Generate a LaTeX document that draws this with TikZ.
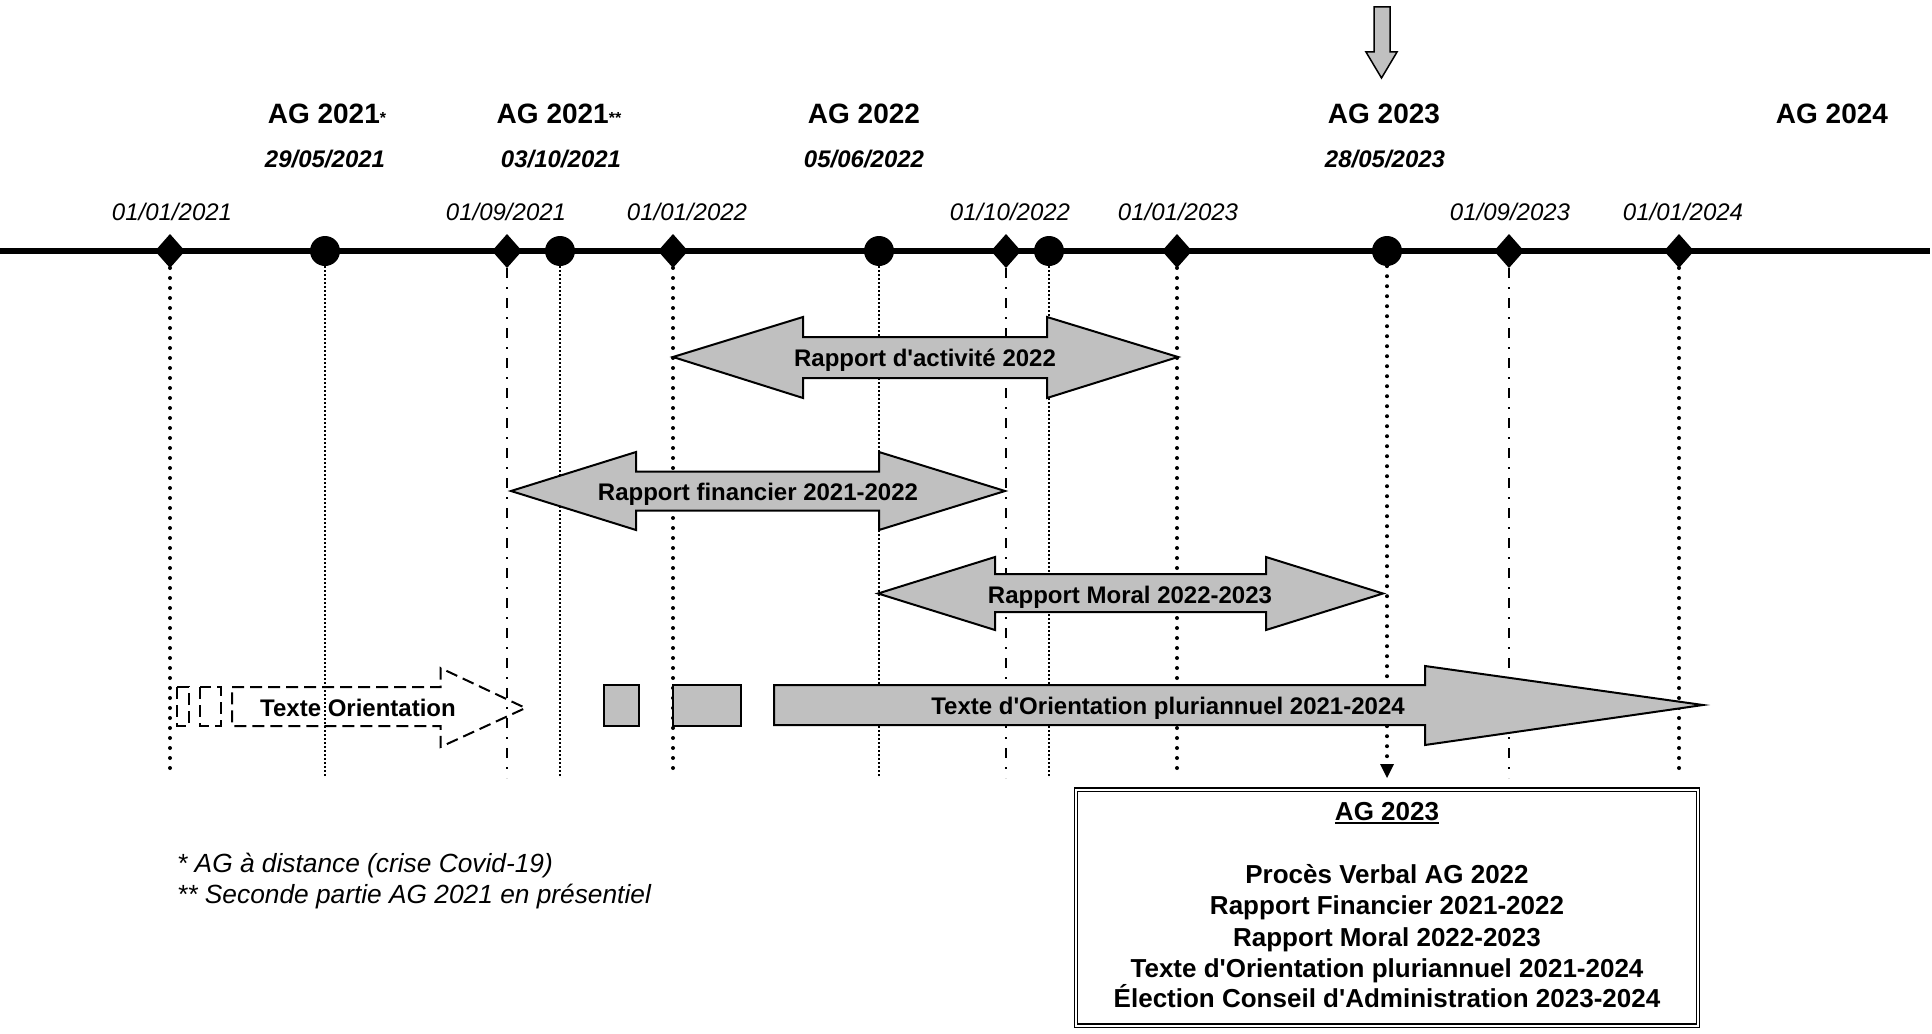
\documentclass[tikz,border=0pt]{standalone}
\usepackage{fontspec}
\setmainfont{Liberation Sans}
\usetikzlibrary{shapes.geometric,arrows.meta}
\definecolor{fillgray}{RGB}{192,192,192}
\newcommand\setfs[1]{\fontsize{#1}{#1}\selectfont}
\newcommand\ap{\textquotesingle}
\begin{document}
\begin{tikzpicture}[x=1pt,y=-1pt,
  diam/.style={shape=coordinate},
  agdot/.style={shape=circle,fill=black,draw=none,inner sep=0pt,minimum size=30pt},
  lbl/.style={inner sep=0pt,anchor=base},
  datelbl/.style={lbl,font=\setfs{24}\itshape},
  aglbl/.style={lbl,font=\setfs{28}\bfseries},
  agdate/.style={lbl,font=\setfs{24}\bfseries\itshape},
  arrowtxt/.style={lbl,font=\setfs{24}\bfseries},
  boxtxt/.style={lbl,font=\setfs{26}\bfseries},
  notetxt/.style={inner sep=0pt,anchor=base west,font=\setfs{26.3}\itshape},
  thickdot/.style={line width=4pt,dash pattern=on 0pt off 10pt,line cap=round},
  finedot/.style={line width=1.5pt,dash pattern=on 1.5pt off 2.5pt},
  dashdotline/.style={line width=2pt,dash pattern=on 10pt off 9pt on 2pt off 9pt},
  grayshape/.style={draw=black,line width=2pt,fill=fillgray,line join=miter},
  dashedshape/.style={draw=black,line width=2pt,dash pattern=on 12pt off 6pt}
]
\useasboundingbox (0,0) rectangle (1932,1033);
\fill[white] (0,0) rectangle (1932,1033);

% ---- time line
\coordinate (tlL) at (0,251);
\coordinate (tlR) at (1930,251);
\coordinate (bottom) at (0,778);
\draw[line width=6pt] (tlL) -- (tlR);

\node[diam] (d1) at (170,251) {};
\node[diam] (d2) at (507,251) {};
\node[diam] (d3) at (673,251) {};
\node[diam] (d4) at (1006,251) {};
\node[diam] (d5) at (1177,251) {};
\node[diam] (d6) at (1509,251) {};
\node[diam] (d7) at (1679,251) {};
\foreach \n in {d1,d2,d3,d4,d5,d6,d7}
  \fill[black] ([shift={(0,-17)}]\n) -- ([shift={(15,0)}]\n) -- ([shift={(0,17)}]\n) -- ([shift={(-15,0)}]\n) -- cycle;
\node[agdot] (c1) at (325,251) {};
\node[agdot] (c2) at (560,251) {};
\node[agdot] (c3) at (879,251) {};
\node[agdot] (c4) at (1049,251) {};
\node[agdot] (c5) at (1387,251) {};
\foreach \n in {d1,d2,d3,d4,d5,d6,d7}
  \coordinate (\n-s) at ([shift={(0,17)}]\n);

% ---- date labels
\node[datelbl] (l1) at (172,220) {01/01/2021};
\node[datelbl] (l2) at (506,220) {01/09/2021};
\node[datelbl] (l3) at (687,220) {01/01/2022};
\node[datelbl] (l4) at (1010,220) {01/10/2022};
\node[datelbl] (l5) at (1178,220) {01/01/2023};
\node[datelbl] (l6) at (1510,220) {01/09/2023};
\node[datelbl] (l7) at (1683,220) {01/01/2024};

% ---- AG labels
\node[aglbl] (ag1) at (327,123) {AG 2021{\setfs{16}*}};
\node[aglbl] (ag2) at (559,123) {AG 2021{\setfs{16}**}};
\node[aglbl] (ag3) at (864,123) {AG 2022};
\node[aglbl] (ag4) at (1384,123) {AG 2023};
\node[aglbl] (ag5) at (1832,123) {AG 2024};
\node[agdate] (ad1) at (325,167) {29/05/2021};
\node[agdate] (ad2) at (561,167) {03/10/2021};
\node[agdate] (ad3) at (864,167) {05/06/2022};
\node[agdate] (ad4) at (1385,167) {28/05/2023};

% ---- top pointer arrow
\draw[grayshape,line width=1.5pt] (1374,7) -- (1390,7) -- (1390,52) -- (1397,52) -- (1381.5,78) -- (1366,52) -- (1374,52) -- cycle;

% ---- vertical guide lines
\draw[thickdot] (d1-s) -- (d1-s |- bottom);
\draw[thickdot] (d3-s) -- (d3-s |- bottom);
\draw[thickdot] (d5-s) -- (d5-s |- bottom);
\draw[thickdot] (d7-s) -- (d7-s |- bottom);
\draw[dashdotline] (d2-s) -- (d2-s |- bottom);
\draw[dashdotline] (d4-s) -- (d4-s |- bottom);
\draw[dashdotline] (d6-s) -- (d6-s |- bottom);
\draw[finedot] (c1.south) -- (c1.south |- bottom);
\draw[finedot] (c2.south) -- (c2.south |- bottom);
\draw[finedot] (c3.south) -- (c3.south |- bottom);
\draw[finedot] (c4.south) -- (c4.south |- bottom);
\draw[thickdot] (c5.south) -- ([yshift=14pt]c5.south |- bottom);
\fill (1380,764) -- (1394,764) -- (1387,778) -- cycle;

% ---- double arrows
\draw[grayshape] (673,357) -- (803,317) -- (803,337) -- (1047,337) -- (1047,317) -- (1178,357)
  -- (1047,398) -- (1047,378) -- (803,378) -- (803,398) -- cycle;
\node[arrowtxt] (ra) at (925,366.5) {Rapport d\ap activité 2022};

\draw[grayshape] (511,491) -- (636,452) -- (636,471.5) -- (879,471.5) -- (879,452) -- (1005,491)
  -- (879,530) -- (879,510.5) -- (636,510.5) -- (636,530) -- cycle;
\node[arrowtxt] (rf) at (758,500) {Rapport financier 2021-2022};

\draw[grayshape] (878,593.5) -- (995,557) -- (995,574) -- (1266,574) -- (1266,557) -- (1383,593.5)
  -- (1266,630) -- (1266,612) -- (995,612) -- (995,630) -- cycle;
\node[arrowtxt] (rm) at (1130,603) {Rapport Moral 2022-2023};

% ---- dashed striped arrow
\draw[dashedshape] (177,687) rectangle (189,726);
\draw[dashedshape] (200,687) rectangle (220.5,726);
\draw[dashedshape] (232,687) -- (440.5,687) -- (440.5,668) -- (525.5,708) -- (440.5,747) -- (440.5,726) -- (232,726) -- cycle;
\node[arrowtxt] (to) at (358,716) {Texte Orientation};

% ---- big striped arrow
\draw[grayshape,line width=1.5pt] (604,685) rectangle (639,726);
\draw[grayshape,line width=1.5pt] (673,685) rectangle (741,726);
\draw[grayshape] (774,685) -- (1425,685) -- (1425,666) -- (1703,705) -- (1425,745) -- (1425,725) -- (774,725) -- cycle;
\node[arrowtxt] (tp) at (1168,714) {Texte d\ap Orientation pluriannuel 2021-2024};

% ---- summary box
\node[draw=black,double=white,double distance=2pt,line width=1.2pt,minimum width=622pt,minimum height=236pt,inner sep=0pt] (box) at (1387,907.5) {};
\node[boxtxt] (bt0) at (1387,820) {AG 2023};
\draw[line width=1.8pt] ([yshift=-3pt]bt0.base west) -- ([yshift=-3pt]bt0.base east);
\node[boxtxt] (bt1) at (1387,883) {Procès Verbal AG 2022};
\node[boxtxt] (bt2) at (1387,914) {Rapport Financier 2021-2022};
\node[boxtxt] (bt3) at (1387,946) {Rapport Moral 2022-2023};
\node[boxtxt] (bt4) at (1387,977) {Texte d\ap Orientation pluriannuel 2021-2024};
\node[boxtxt] (bt5) at (1387,1007) {Élection Conseil d\ap Administration 2023-2024};

% ---- footnotes
\node[notetxt] (n1) at (177,872) {* AG à distance (crise Covid-19)};
\node[notetxt] (n2) at (177,903) {** Seconde partie AG 2021 en présentiel};
\end{tikzpicture}
\end{document}
